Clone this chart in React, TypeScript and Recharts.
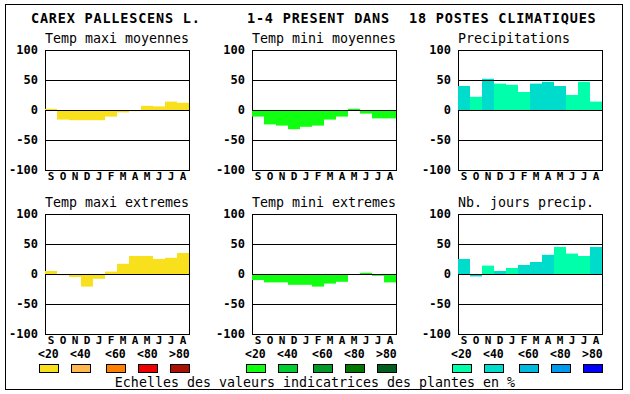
import React from "react";
import { Bar, BarChart, Cell, ReferenceArea, ReferenceLine, XAxis, YAxis } from "recharts";

const months = ["S", "O", "N", "D", "J", "F", "M", "A", "M", "J", "J", "A"];
const yTicks = [-100, -50, 0, 50, 100];
const scaleLabels = ["<20", "<40", "<60", "<80", ">80"];

const tmaxMoy = [2, -16, -17, -17, -17, -11, -4, -2, 7, 6, 14, 12];
const tminMoy = [-11, -24, -26, -32, -28, -26, -16, -11, 2, -6, -14, -14];
const precip = [40, 22, 52, 44, 42, 30, 44, 47, 40, 25, 47, 14];
const tmaxExt = [5, -2, -5, -21, -8, 4, 17, 30, 30, 25, 27, 35];
const tminExt = [-10, -14, -14, -18, -18, -21, -16, -13, 0, 2, -3, -14];
const nbJours = [25, -4, 14, 5, 10, 15, 20, 32, 45, 34, 30, 45];

// indicator class (0 = <20 ... 4 = >80) for each month
const precipCls = [1, 0, 1, 0, 0, 0, 1, 1, 1, 0, 0, 0];
const nbJoursCls = [1, 1, 0, 1, 0, 1, 1, 1, 0, 0, 0, 1];
const zeroCls = [0, 0, 0, 0, 0, 0, 0, 0, 0, 0, 0, 0];

const yellows = ["#f8e11c", "#ffb84f", "#ff7f00", "#ee0000", "#aa1100"];
const greens = ["#10ff10", "#00cc33", "#00992a", "#007700", "#005f1f"];
const cyans = ["#00ffaa", "#00dccc", "#00bbdd", "#0099ee", "#0000ff"];

const mono = "'DejaVu Sans Mono', monospace";
const PW = 144;
const PH = 120;

function Panel({ left, top, title, values, cls, palette }: any) {
  const data = values.map((v: number, i: number) => ({ i, v }));
  return (
    <>
      <div style={{ position: "absolute", left: left - 45, top: top - 10 }}>
        <BarChart
          width={45 + PW + 5}
          height={10 + PH + 20}
          data={data}
          margin={{ top: 10, right: 5, bottom: 0, left: 0 }}
          barCategoryGap={0}
          barGap={0}
        >
          <XAxis
            dataKey="i"
            tickFormatter={(i) => months[i]}
            interval={0}
            axisLine={false}
            tickLine={false}
            tickSize={0}
            tickMargin={2}
            height={20}
            tick={{ fill: "#000", fontSize: 11, fontWeight: "bold", fontFamily: mono }}
          />
          <YAxis
            type="number"
            domain={[-100, 100]}
            ticks={yTicks}
            width={45}
            axisLine={false}
            tickLine={false}
            tickSize={5}
            tick={{ fill: "#000", fontSize: 12, fontWeight: "bold", fontFamily: mono }}
          />
          <Bar dataKey="v" isAnimationActive={false}>
            {data.map((d: any) => (
              <Cell key={d.i} fill={palette[cls[d.i]]} />
            ))}
          </Bar>
          {[50, 0, -50].map((y) => (
            <ReferenceLine key={y} y={y} stroke="#000" strokeWidth={1} shapeRendering="crispEdges" />
          ))}
          <ReferenceArea y1={-100} y2={100} fill="none" fillOpacity={0} stroke="#000" strokeOpacity={1} shapeRendering="crispEdges" />
        </BarChart>
      </div>
      <div
        style={{
          position: "absolute",
          left,
          top: top - 18,
          fontFamily: mono,
          fontSize: 13.3,
          lineHeight: "14px",
          color: "#000",
          whiteSpace: "pre",
        }}
      >
        {title}
      </div>
    </>
  );
}

function Scale({ left, top, palette }: any) {
  const offs = [-6, 26, 61, 93, 125];
  return (
    <>
      {scaleLabels.map((s, k) => (
        <div
          key={s}
          style={{
            position: "absolute",
            left: left + offs[k] - 1,
            top,
            fontFamily: mono,
            fontSize: 11.5,
            fontWeight: "bold",
            lineHeight: "12px",
            whiteSpace: "pre",
          }}
        >
          {s}
        </div>
      ))}
      {palette.map((c: string, k: number) => (
        <div
          key={c}
          style={{
            position: "absolute",
            left: left + offs[k],
            top: top + 16,
            width: 18,
            height: 7,
            background: c,
            border: "1px solid #000",
          }}
        />
      ))}
    </>
  );
}

const titleStyle: React.CSSProperties = {
  position: "absolute",
  top: 11,
  fontFamily: mono,
  fontSize: 13.5,
  fontWeight: "bold",
  letterSpacing: 0.8,
  lineHeight: "14px",
  whiteSpace: "pre",
};

export default function App() {
  return (
    <div style={{ position: "absolute", left: 0, top: 0, width: 630, height: 394, background: "#fff", overflow: "hidden" }}>
      <div style={{ position: "absolute", left: 5, top: 4, width: 616, height: 384, border: "1px solid #000" }} />
      <div style={{ ...titleStyle, left: 31 }}>CAREX PALLESCENS L.</div>
      <div style={{ ...titleStyle, left: 247 }}>1-4 PRESENT DANS</div>
      <div style={{ ...titleStyle, left: 409 }}>18 POSTES CLIMATIQUES</div>

      <Panel left={45} top={50} title="Temp maxi moyennes" values={tmaxMoy} cls={zeroCls} palette={yellows} />
      <Panel left={252} top={50} title="Temp mini moyennes" values={tminMoy} cls={zeroCls} palette={greens} />
      <Panel left={458} top={50} title="Precipitations" values={precip} cls={precipCls} palette={cyans} />
      <Panel left={45} top={214} title="Temp maxi extremes" values={tmaxExt} cls={zeroCls} palette={yellows} />
      <Panel left={252} top={214} title="Temp mini extremes" values={tminExt} cls={zeroCls} palette={greens} />
      <Panel left={458} top={214} title="Nb. jours precip." values={nbJours} cls={nbJoursCls} palette={cyans} />

      <Scale left={45} top={348} palette={yellows} />
      <Scale left={252} top={348} palette={greens} />
      <Scale left={458} top={348} palette={cyans} />

      <div
        style={{
          position: "absolute",
          left: 0,
          width: 630,
          top: 376,
          textAlign: "center",
          fontFamily: mono,
          fontSize: 13.3,
          lineHeight: "14px",
          whiteSpace: "pre",
        }}
      >
        Echelles des valeurs indicatrices des plantes en %
      </div>
    </div>
  );
}
